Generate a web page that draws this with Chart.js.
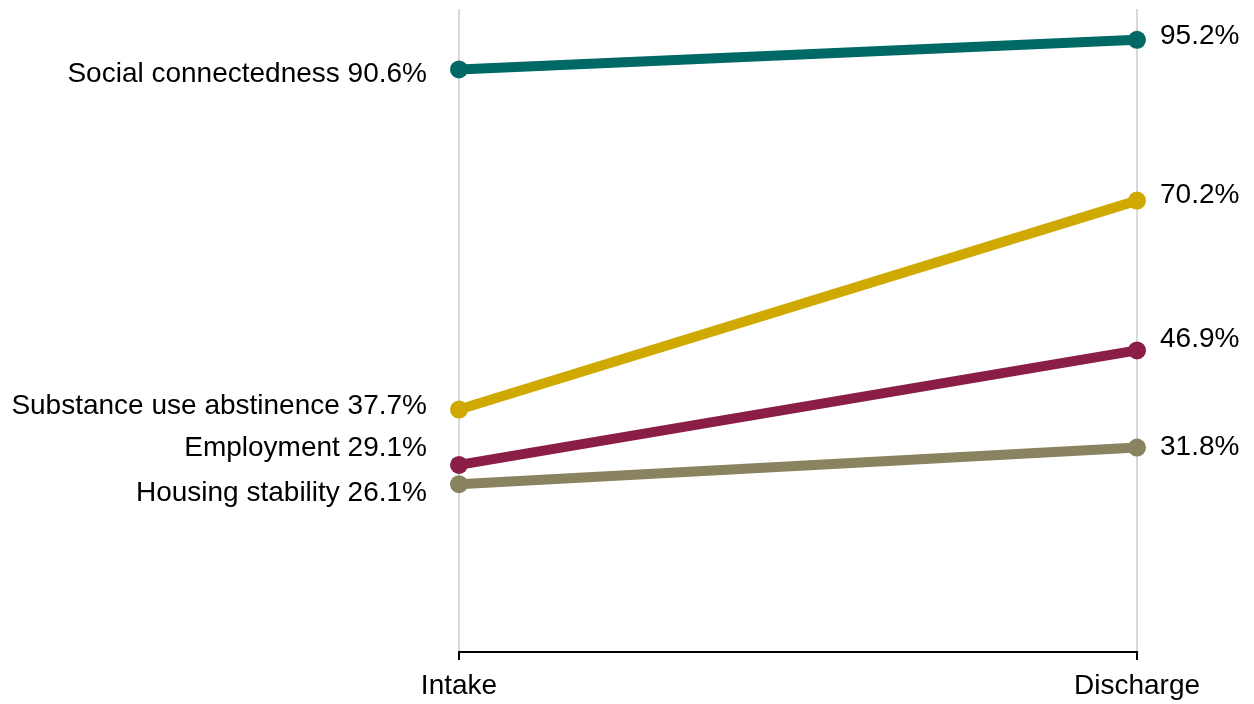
<!DOCTYPE html>
<html lang="en">
<head>
    <meta charset="UTF-8">
    <title>Outcomes at Intake and Discharge</title>
    <script src="https://cdn.jsdelivr.net/npm/chart.js"></script>
    <style>
        html, body { margin: 0; padding: 0; background: #fff; }
        #wrap { width: 1254px; height: 704px; }
    </style>
</head>
<body>
    <div id="wrap"><canvas id="slopeChart"></canvas></div>

    <script>
        const timepoints = ['Intake', 'Discharge'];
        const outcomes = ['Social connectedness', 'Substance use abstinence', 'Employment', 'Housing stability'];
        const intakeValues = [90.6, 37.7, 29.1, 26.1];
        const dischargeValues = [95.2, 70.2, 46.9, 31.8];
        const lineColors = ['#006966', '#cfa800', '#8b1e46', '#8a8360'];

        // small vertical nudges (px) so the end labels don't collide
        const leftNudge = [5, -3, -17, 9];
        const rightNudge = [-4, -5, -11, 0];

        const FONT = '"Liberation Sans", Arial, sans-serif';

        const endLabels = {
            id: 'endLabels',
            afterDatasetsDraw(chart) {
                const ctx = chart.ctx;
                ctx.save();
                ctx.font = '28px ' + FONT;
                ctx.fillStyle = '#000';
                ctx.textBaseline = 'middle';
                chart.data.datasets.forEach((ds, i) => {
                    const pts = chart.getDatasetMeta(i).data;
                    ctx.textAlign = 'right';
                    ctx.fillText(outcomes[i] + ' ' + intakeValues[i].toFixed(1) + '%', pts[0].x - 32, pts[0].y + leftNudge[i]);
                    ctx.textAlign = 'left';
                    ctx.fillText(dischargeValues[i].toFixed(1) + '%', pts[1].x + 23, pts[1].y + rightNudge[i]);
                });
                ctx.restore();
            }
        };

        const datasets = outcomes.map((name, i) => ({
            label: name,
            data: [intakeValues[i], dischargeValues[i]],
            borderColor: lineColors[i],
            backgroundColor: lineColors[i],
            borderWidth: 10,
            pointRadius: 9,
            pointHoverRadius: 9,
            pointBorderWidth: 0,
            borderCapStyle: 'round',
            clip: false
        }));

        new Chart(document.getElementById('slopeChart'), {
            type: 'line',
            data: { labels: timepoints, datasets: datasets },
            plugins: [endLabels],
            options: {
                responsive: true,
                maintainAspectRatio: false,
                animation: false,
                layout: { padding: { left: 459, right: 117, top: 7, bottom: 0 } },
                plugins: { legend: { display: false }, tooltip: { enabled: false } },
                scales: {
                    x: {
                        offset: false,
                        afterFit(scale) { scale.height = 52; },
                        grid: {
                            color: '#d9d9d9',
                            lineWidth: 2,
                            tickColor: '#000',
                            tickWidth: 2,
                            tickLength: 8
                        },
                        border: { color: '#000', width: 2 },
                        ticks: {
                            color: '#000',
                            padding: 9,
                            maxRotation: 0,
                            font: { family: FONT, size: 28 }
                        }
                    },
                    y: {
                        display: false,
                        min: 0,
                        max: 100
                    }
                }
            }
        });
    </script>
</body>
</html>
